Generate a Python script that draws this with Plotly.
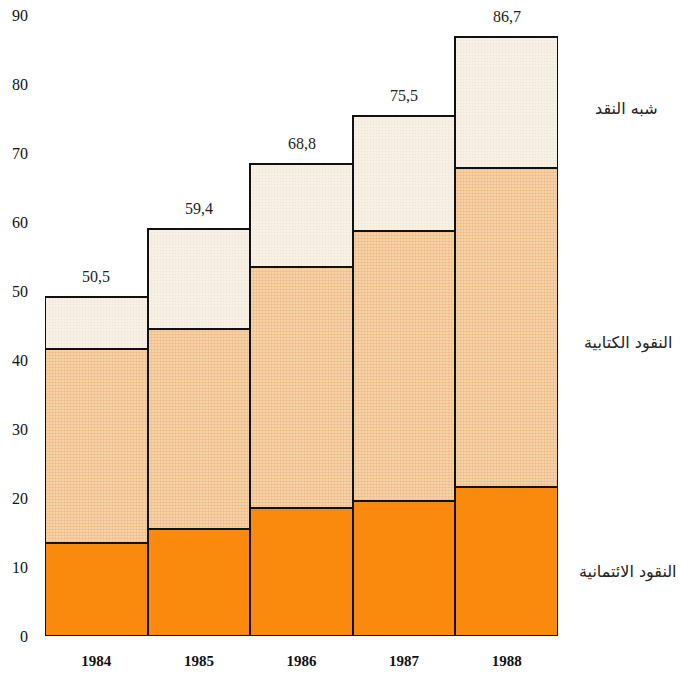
import plotly.graph_objects as go

years = ["1984", "1985", "1986", "1987", "1988"]
currency = [13.5, 15.5, 18.6, 19.6, 21.6]        # النقود الائتمانية
deposit = [28.1, 29.0, 34.9, 39.1, 46.2]         # النقود الكتابية
quasi = [7.5, 14.5, 14.9, 16.7, 19.0]            # شبه النقد
total_labels = ["50,5", "59,4", "68,8", "75,5", "86,7"]
series_names = ["النقود الائتمانية", "النقود الكتابية", "شبه النقد"]
y_ticks = [0, 10, 20, 30, 40, 50, 60, 70, 80, 90]

fig = go.Figure()
fig.add_trace(go.Bar(
    x=years, y=currency, name=series_names[0],
    marker=dict(color="#F98A0E", line=dict(color="#111111", width=2.5)),
))
fig.add_trace(go.Bar(
    x=years, y=deposit, name=series_names[1],
    marker=dict(color="#F3CC98", line=dict(color="#111111", width=2.5),
                pattern=dict(shape=".", fgcolor="#E89E55", bgcolor="#F7DBB6",
                             size=3, solidity=0.55)),
))
fig.add_trace(go.Bar(
    x=years, y=quasi, name=series_names[2],
    marker=dict(color="#F5EEE0", line=dict(color="#111111", width=2.5),
                pattern=dict(shape=".", fgcolor="#E8DCC6", bgcolor="#F8F2E8",
                             size=3, solidity=0.4)),
))

tops = [a + b + c for a, b, c in zip(currency, deposit, quasi)]
for i, (t, lab) in enumerate(zip(tops, total_labels)):
    fig.add_annotation(x=i, y=t, text=lab, showarrow=False, yanchor="bottom",
                       yshift=10, font=dict(family="Liberation Serif", size=16, color="#222"))

label_pos = [0.103, 0.472, 0.850]
label_x = [1.137, 1.137, 1.133]
for name, xp, yp in zip(series_names, label_x, label_pos):
    fig.add_annotation(xref="paper", yref="paper", x=xp, y=yp, text=name,
                       showarrow=False, xanchor="center", yanchor="middle",
                       font=dict(family="DejaVu Sans", size=16, color="#222"))

fig.update_layout(
    barmode="stack", bargap=0, showlegend=False,
    width=681, height=677,
    margin=dict(l=45, r=123, t=15, b=41),
    paper_bgcolor="white", plot_bgcolor="white",
    xaxis=dict(type="category", range=[-0.5, 4.5], showgrid=False, showline=False,
               zeroline=False, ticks="", automargin=False,
               tickfont=dict(family="Liberation Serif", size=15, color="#111"),
               ticklabelstandoff=14),
    yaxis=dict(range=[0, 90], tickvals=y_ticks, showgrid=False, showline=False,
               zeroline=False, ticks="", automargin=False,
               tickfont=dict(family="Liberation Serif", size=16, color="#111"),
               ticklabelstandoff=16),
)
fig.update_xaxes(tickfont_weight="bold")

fig.write_html("out.html", config={"displayModeBar": False},
               post_script="document.body.style.margin='0';document.body.style.overflow='hidden';")
